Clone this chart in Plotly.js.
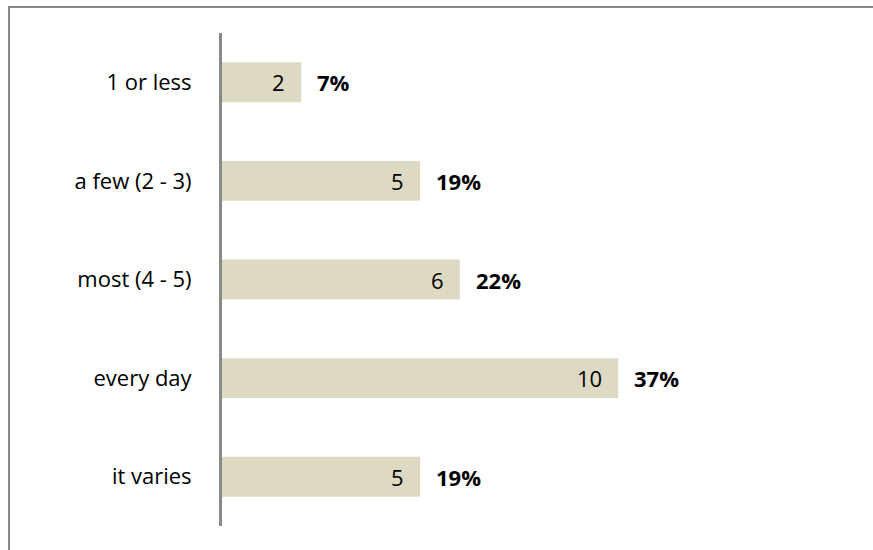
<!DOCTYPE html>
<html>
<head>
<meta charset="utf-8">
<script src="https://cdn.plot.ly/plotly-3.0.1.min.js"></script>
<style>
  html, body { margin: 0; padding: 0; background: #fff; }
  #chart { width: 873px; height: 550px; }
</style>
</head>
<body>
<div id="chart"></div>
<script>
const categories = ['1 or less', 'a few (2 - 3)', 'most (4 - 5)', 'every day', 'it varies'];
const counts = [2, 5, 6, 10, 5];
const percents = ['7%', '19%', '22%', '37%', '19%'];

const FONT = '"Open Sans", Lato, sans-serif';
const ML = 222, MT = 33, MB = 24, MR = 17;
const W = 873, H = 550;
const plotW = W - ML - MR, plotH = H - MT - MB;

const trace = {
  type: 'bar',
  orientation: 'h',
  y: categories,
  x: counts,
  marker: { color: '#DDD9C3', line: { width: 0 } },
  hoverinfo: 'none'
};

const annotations = [];
categories.forEach((c, i) => {
  annotations.push({
    x: counts[i], y: c, xref: 'x', yref: 'y',
    text: String(counts[i]), showarrow: false,
    xanchor: 'right', yanchor: 'middle', xshift: -14,
    font: { family: FONT, size: 22, color: '#000' }
  });
  annotations.push({
    x: counts[i], y: c, xref: 'x', yref: 'y',
    text: '<b>' + percents[i] + '</b>', showarrow: false,
    xanchor: 'left', yanchor: 'middle', xshift: 14,
    font: { family: FONT, size: 22, color: '#000' }
  });
});

const layout = {
  width: W, height: H,
  margin: { l: ML, r: MR, t: MT, b: MB, pad: 0 },
  paper_bgcolor: '#fff', plot_bgcolor: '#fff',
  showlegend: false,
  bargap: 0.595,
  font: { family: FONT, size: 22, color: '#000' },
  xaxis: {
    range: [0, 16], showgrid: false, zeroline: false, showline: false,
    showticklabels: false, ticks: '', fixedrange: true
  },
  yaxis: {
    type: 'category', categoryorder: 'array', categoryarray: categories,
    range: [4.5, -0.5], showgrid: false, zeroline: false,
    showline: true, linecolor: '#898989', linewidth: 3,
    ticks: 'outside', ticklen: 23, tickcolor: 'rgba(0,0,0,0)',
    tickfont: { family: FONT, size: 22, color: '#000' }
  },
  annotations: annotations,
  shapes: [{
    type: 'path', xref: 'paper', yref: 'paper',
    path: 'M ' + ((9 - ML) / plotW) + ' ' + (-40 / plotH) +
          ' L ' + ((9 - ML) / plotW) + ' ' + ((H - MB - 7) / plotH) +
          ' L ' + ((W + 20 - ML) / plotW) + ' ' + ((H - MB - 7) / plotH),
    line: { color: '#898989', width: 2 }
  }]
};

Plotly.newPlot('chart', [trace], layout, { displayModeBar: false, staticPlot: true });
</script>
</body>
</html>
